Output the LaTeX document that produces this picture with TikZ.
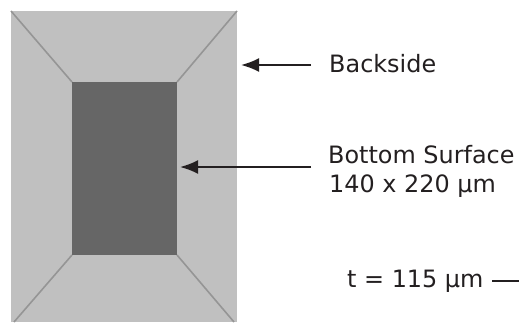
\documentclass[tikz,border=0pt]{standalone}
\usepackage{fontspec}
\setmainfont{DejaVu Sans}
\usetikzlibrary{arrows.meta}
\definecolor{pane}{HTML}{C0C0C0}
\definecolor{floorc}{HTML}{666666}
\definecolor{edgec}{HTML}{959595}
\definecolor{ink}{HTML}{231F20}
\tikzset{
  x=1pt,y=-1pt,
  edgeline/.style={draw=edgec,line width=1.6pt},
  leader/.style={draw=ink,line width=2pt},
  pointer/.style={leader,-{Latex[length=18pt,width=14pt]}},
  lbl/.style={anchor=base west,inner sep=0pt,text=ink,font=\fontsize{23.9}{28}\selectfont,align=left}
}
\begin{document}
\begin{tikzpicture}
\useasboundingbox (0,0) rectangle (519,322);
\fill[pane] (11,11) rectangle (237,322);
\fill[floorc] (72,82) rectangle (177,255);
\coordinate (otl) at (11,11);
\coordinate (otr) at (237,11);
\coordinate (obl) at (14,322);
\coordinate (obr) at (234,322);
\coordinate (itl) at (72,82);
\coordinate (itr) at (177,82);
\coordinate (ibl) at (72,255);
\coordinate (ibr) at (177,255);
\draw[edgeline] (otl) -- (itl);
\draw[edgeline] (otr) -- (itr);
\draw[edgeline] (obl) -- (ibl);
\draw[edgeline] (obr) -- (ibr);
\node[lbl] (back) at (329,72.7) {Backside};
\node[lbl] (bottom) at (328,163) {Bottom Surface};
\node[lbl] (size) at (329,192) {140 x 220 µm};
\node[lbl] (thick) at (347,287.7) {t = 115 µm};
\coordinate (backtip) at (241,65);
\coordinate (backtail) at (311,65);
\coordinate (bottip) at (180,167);
\coordinate (bottail) at (311,167);
\coordinate (ta) at (492,280.7);
\coordinate (tb) at (519,280.7);
\draw[pointer] (backtail) -- (backtip);
\draw[pointer] (bottail) -- (bottip);
\draw[leader] (ta) -- (tb);
\end{tikzpicture}
\end{document}
